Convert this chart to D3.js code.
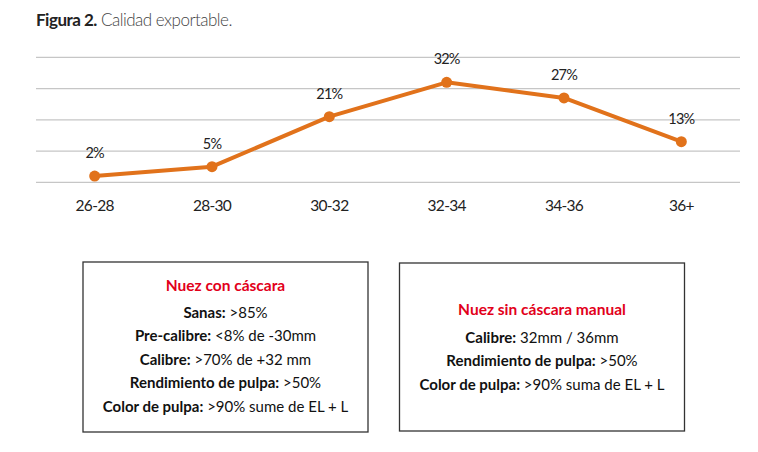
<!DOCTYPE html>
<html lang="es">
<head>
<meta charset="UTF-8">
<title>Figura 2. Calidad exportable.</title>
<style>
    body { margin: 0; background: #fff; }
    svg text { font-family: Lato, 'Open Sans', sans-serif; }
</style>
<script src="https://d3js.org/d3.v7.min.js"></script>
</head>
<body>
<div id="chart"></div>
<script>
    // datos
    const calibres = ["26-28", "28-30", "30-32", "32-34", "34-36", "36+"];
    const porcentajes = [2, 5, 21, 32, 27, 13];
    const gridTicks = [0, 10, 20, 30, 40];

    const conCascara = [
        ["Sanas:", " >85%"],
        ["Pre-calibre:", " <8% de -30mm"],
        ["Calibre:", " >70% de +32 mm"],
        ["Rendimiento de pulpa:", " >50%"],
        ["Color de pulpa:", " >90% sume de EL + L"]
    ];
    const sinCascara = [
        ["Calibre:", " 32mm / 36mm"],
        ["Rendimiento de pulpa:", " >50%"],
        ["Color de pulpa:", " >90% suma de EL + L"]
    ];

    const width = 758, height = 452;
    const orange = "#e1721b";

    const svg = d3.select("#chart").append("svg")
        .attr("width", width)
        .attr("height", height);

    // titulo
    const title = svg.append("text")
        .attr("x", 36).attr("y", 26)
        .attr("font-size", 17)
        .attr("letter-spacing", -0.5);
    title.append("tspan").attr("font-weight", 700).attr("fill", "#222").text("Figura 2.");
    title.append("tspan").attr("font-weight", 300).attr("fill", "#444").text(" Calidad exportable.");

    const x = d3.scaleBand()
        .domain(calibres)
        .range([36, 740]);

    const y = d3.scaleLinear()
        .domain([0, 40])
        .range([182.3, 57.3]);

    // lineas de guia
    svg.append("g")
        .selectAll("line")
        .data(gridTicks)
        .join("line")
        .attr("x1", 36).attr("x2", 740)
        .attr("y1", d => y(d)).attr("y2", d => y(d))
        .attr("stroke", "#c6c6c6")
        .attr("stroke-width", 1.2);

    // eje x
    const xAxis = svg.append("g")
        .attr("transform", "translate(0,182.3)")
        .call(d3.axisBottom(x).tickSize(0).tickPadding(18));
    xAxis.select(".domain").remove();
    xAxis.selectAll("text")
        .attr("font-family", "Lato, sans-serif")
        .attr("font-size", 15.5)
        .attr("letter-spacing", -0.7)
        .attr("fill", "#222");

    const cx = d => x(d) + x.bandwidth() / 2;

    svg.append("path")
        .datum(porcentajes)
        .attr("fill", "none")
        .attr("stroke", orange)
        .attr("stroke-width", 4)
        .attr("stroke-linejoin", "round")
        .attr("d", d3.line()
            .x((d, i) => cx(calibres[i]))
            .y(d => y(d)));

    svg.append("g")
        .selectAll("circle")
        .data(porcentajes)
        .join("circle")
        .attr("cx", (d, i) => cx(calibres[i]))
        .attr("cy", d => y(d))
        .attr("r", 5.5)
        .attr("fill", orange);

    svg.append("g")
        .selectAll("text")
        .data(porcentajes)
        .join("text")
        .attr("x", (d, i) => cx(calibres[i]))
        .attr("y", d => y(d) - 18)
        .attr("text-anchor", "middle")
        .attr("font-size", 14.5)
        .attr("letter-spacing", -0.8)
        .attr("fill", "#222")
        .text(d => d + "%");

    // cuadros de especificaciones
    function cuadro(x0, y0, w, h, titulo, tituloY, filas, filaY) {
        const g = svg.append("g");
        g.append("rect")
            .attr("x", x0).attr("y", y0)
            .attr("width", w).attr("height", h)
            .attr("fill", "#fff")
            .attr("stroke", "#333")
            .attr("stroke-width", 1.3);
        const mid = x0 + w / 2;
        g.append("text")
            .attr("x", mid).attr("y", tituloY + 5.5)
            .attr("text-anchor", "middle")
            .attr("font-size", 15.5)
            .attr("font-weight", 700)
            .attr("fill", "#e2001a")
            .text(titulo);
        filas.forEach((f, i) => {
            const t = g.append("text")
                .attr("x", mid).attr("y", filaY + i * 23.5 + 5.5)
                .attr("text-anchor", "middle")
                .attr("font-size", 15)
                .attr("fill", "#111");
            t.append("tspan").attr("font-weight", 700).text(f[0]);
            t.append("tspan").attr("font-weight", 400).text(f[1]);
        });
    }

    cuadro(83, 262, 285, 170, "Nuez con cáscara", 285, conCascara, 312.3);
    cuadro(399.5, 263, 285, 168, "Nuez sin cáscara manual", 309, sinCascara, 337.3);
</script>
</body>
</html>
